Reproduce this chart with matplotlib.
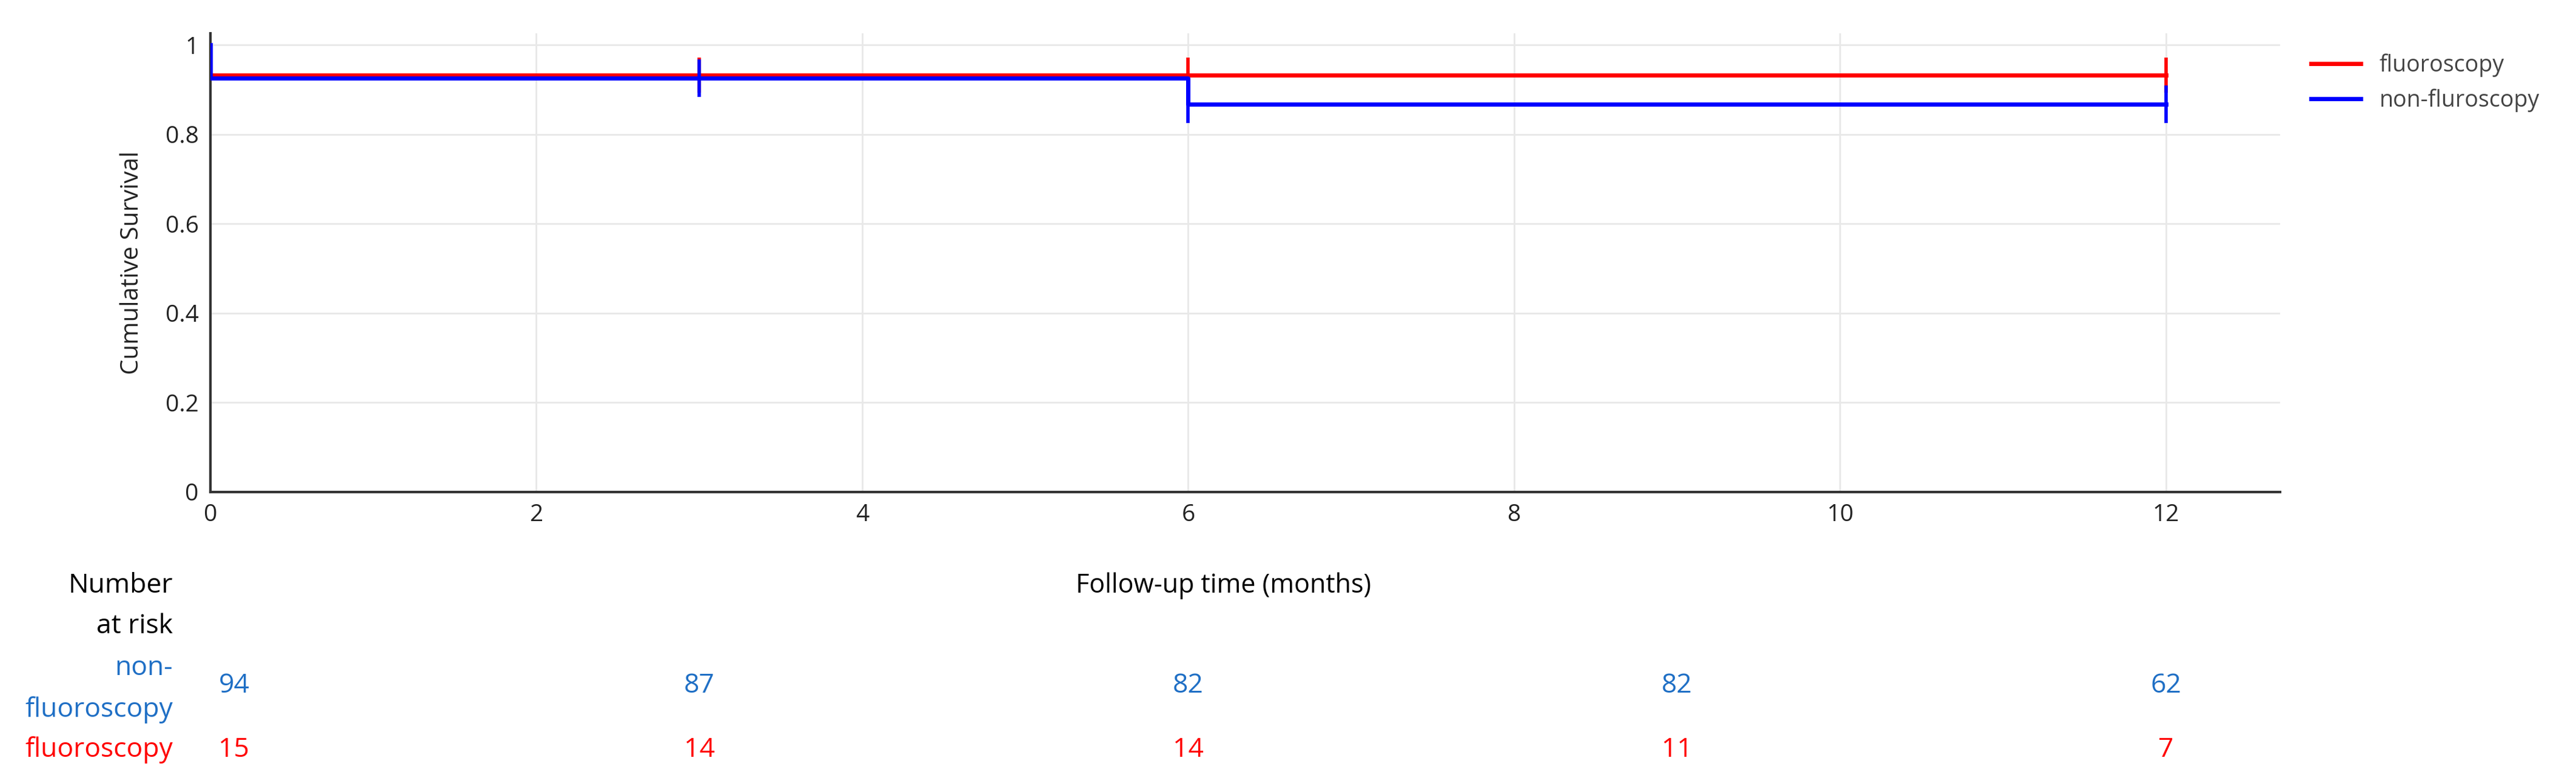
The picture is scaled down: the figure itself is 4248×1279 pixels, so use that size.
import numpy as np
import matplotlib.pyplot as plt

plt.rcParams['font.family'] = ['Open Sans', 'DejaVu Sans']

# Kaplan-Meier step data
fluoro_t = [0, 3, 6, 12]
fluoro_s = [0.933, 0.933, 0.933, 0.933]
fluoro_censor_t = [3, 6, 12]
fluoro_censor_s = [0.933, 0.933, 0.933]

nonfluoro_t = [0, 0, 6, 6, 12]
nonfluoro_s = [1.0, 0.926, 0.926, 0.867, 0.867]
nonfluoro_censor_t = [3, 6, 12]
nonfluoro_censor_s = [0.926, 0.867, 0.867]

risk_times = [0, 3, 6, 9, 12]
risk_nonfluoro = [94, 87, 82, 82, 62]
risk_fluoro = [15, 14, 14, 11, 7]

RED = "#ff0000"
BLUE = "#0000ff"
RISK_BLUE = "#1f6fc5"

fig = plt.figure(figsize=(42.48, 12.79), dpi=100)
ax = fig.add_axes([347 / 4248, 1 - 812 / 1279, (3760 - 347) / 4248, (812 - 55) / 1279])

ax.plot(fluoro_t, fluoro_s, color=RED, lw=5, drawstyle="steps-post", label="fluoroscopy", zorder=3)
ax.plot(nonfluoro_t, nonfluoro_s, color=BLUE, lw=5, drawstyle="steps-post", label="non-fluroscopy", zorder=4)
ax.plot(fluoro_censor_t, fluoro_censor_s, ls="none", marker="|", ms=42, mew=4, color=RED, zorder=3)
ax.plot(nonfluoro_censor_t, nonfluoro_censor_s, ls="none", marker="|", ms=45, mew=4, color=BLUE, zorder=4)

ax.set_xlim(0, 12.7)
ax.set_ylim(0, 1.026)
ax.set_xticks(range(0, 13, 2))
ax.set_yticks([0, 0.2, 0.4, 0.6, 0.8, 1])
ax.set_yticklabels(["0", "0.2", "0.4", "0.6", "0.8", "1"])
ax.grid(True, color="#e8e8e8", lw=2)
ax.set_axisbelow(True)
for s in ["top", "right"]:
    ax.spines[s].set_visible(False)
for s in ["left", "bottom"]:
    ax.spines[s].set_linewidth(3)
    ax.spines[s].set_color("#333333")
ax.tick_params(labelsize=28, length=0, pad=14, colors="#222222")
ax.set_ylabel("Cumulative Survival", fontsize=29, labelpad=25, color="#222222")

leg = ax.legend(loc="upper left", bbox_to_anchor=(1.005, 1.0), frameon=False, fontsize=27,
                handlelength=2.2, labelcolor="#444444")

# Number at risk table
fig.text(285 / 4248, 1 - 967 / 1279, "Number", ha="right", va="center", fontsize=32)
fig.text(285 / 4248, 1 - 1034 / 1279, "at risk", ha="right", va="center", fontsize=32)
fig.text(2018 / 4248, 1 - 967 / 1279, "Follow-up time (months)",
         ha="center", va="center", fontsize=31)
fig.text(285 / 4248, 1 - 1103 / 1279, "non-", ha="right", va="center", fontsize=32, color=RISK_BLUE)
fig.text(285 / 4248, 1 - 1172 / 1279, "fluoroscopy", ha="right", va="center", fontsize=32, color=RISK_BLUE)
fig.text(285 / 4248, 1 - 1238 / 1279, "fluoroscopy", ha="right", va="center", fontsize=32, color=RED)

trans = ax.get_xaxis_transform()
for i, t in enumerate(risk_times):
    ha = "left" if i == 0 else "center"
    xt = t + 0.05 if i == 0 else t
    ax.text(xt, -(1132 - 812) / (812 - 55), str(risk_nonfluoro[i]), transform=trans, ha=ha,
            va="center", fontsize=32, color=RISK_BLUE, clip_on=False)
    ax.text(xt, -(1238 - 812) / (812 - 55), str(risk_fluoro[i]), transform=trans, ha=ha,
            va="center", fontsize=32, color=RED, clip_on=False)

fig.savefig("out.png", dpi=100, facecolor="white")
